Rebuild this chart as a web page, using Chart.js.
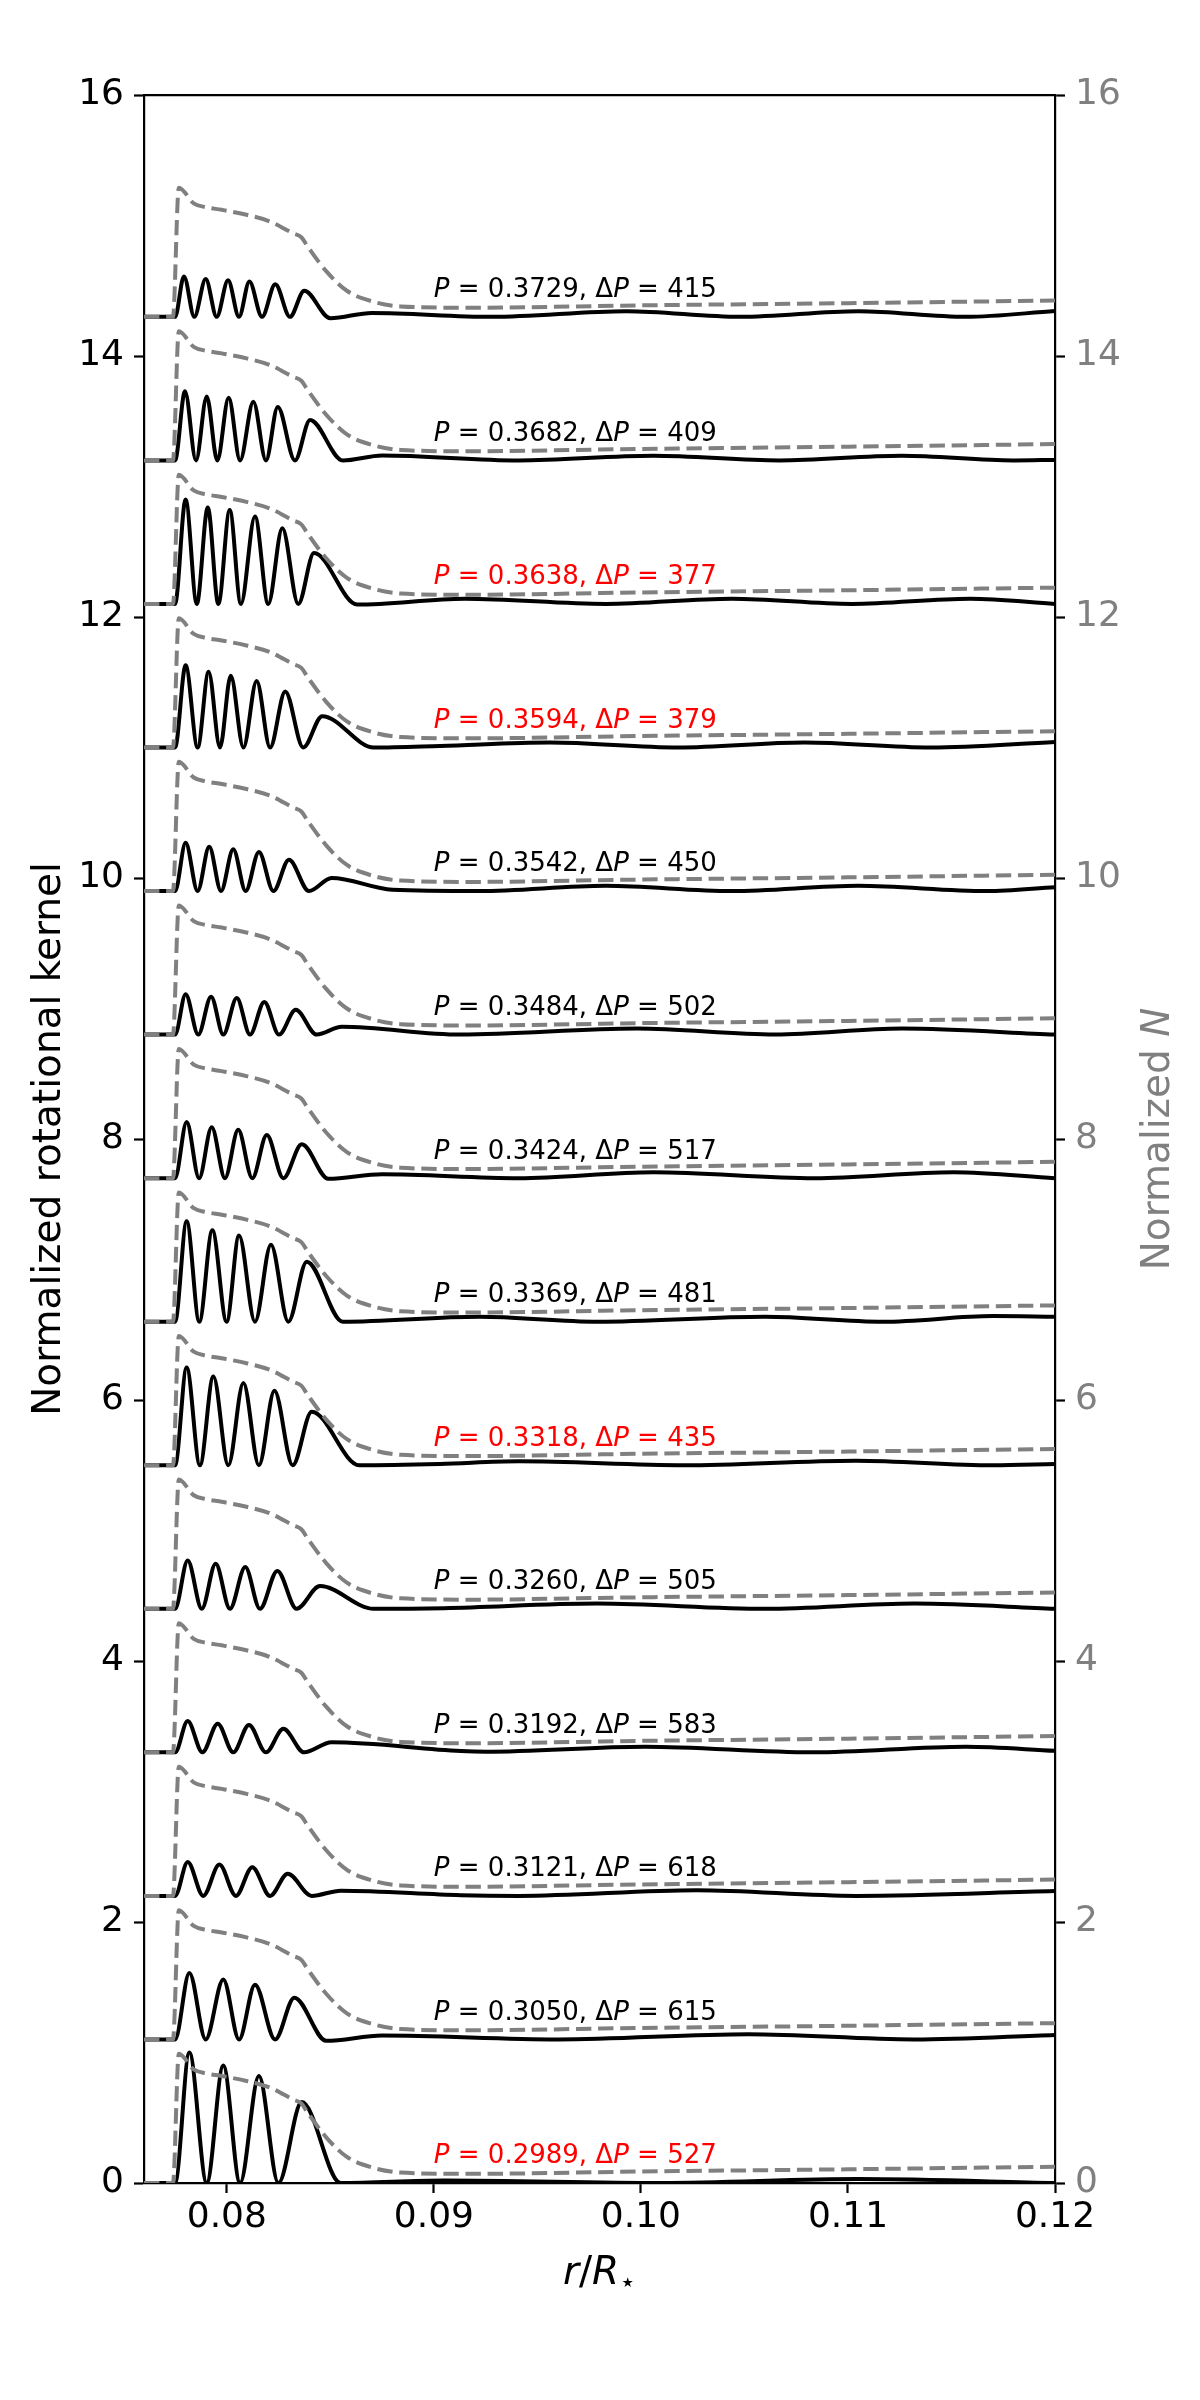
<!DOCTYPE html>
<html><head><meta charset="utf-8">
<script src="https://cdn.jsdelivr.net/npm/chart.js@4.4.1/dist/chart.umd.min.js"></script>
<style>html,body{margin:0;padding:0;background:#fff;}canvas{display:block;}</style>
</head><body>
<canvas id="c" width="1200" height="2400"></canvas>
<script>
// ---------------- data ----------------
const periods   = ['0.2989','0.3050','0.3121','0.3192','0.3260','0.3318','0.3369','0.3424','0.3484','0.3542','0.3594','0.3638','0.3682','0.3729'];
const deltaP    = ['527','615','618','583','505','435','481','517','502','450','379','377','409','415'];
const highlighted = [true,false,false,false,false,true,false,false,false,false,true,true,false,false];
const offsets   = [0,1.1,2.2,3.3,4.4,5.5,6.6,7.7,8.8,9.9,11.0,12.1,13.2,14.3];
const annotX = 0.09, annotDy = 0.15;

const xTicks = [0.08,0.09,0.10,0.11,0.12];
const xTickLabels = ['0.08','0.09','0.10','0.11','0.12'];
const yTicks = [0,2,4,6,8,10,12,14,16];
const yTickLabels = ['0','2','4','6','8','10','12','14','16'];

// normalized buoyancy frequency profile (relative to each mode's baseline)
const nProfileX = [0.076,0.0774,0.07768,0.0784,0.0790,0.07975,0.0810,0.0821,0.0832,0.0836,0.0839,0.0848,0.0858,0.0871,0.0884,0.0915,0.100,0.110,0.12];
const nProfileY = [0,0,0.99,0.87,0.84,0.82,0.78,0.73,0.64,0.61,0.54,0.35,0.20,0.115,0.08,0.07,0.088,0.105,0.125];

// rotational kernels: [r/R, value above baseline] at the extrema
const kernel_2989 = [[0.076,0],[0.0775,0],[0.07819,1.00],[0.07903,0],[0.07983,0.90],[0.08064,0],[0.08155,0.82],[0.08249,0],[0.08362,0.62],[0.0855,0],[0.0905,0.02],[0.1010,0.0],[0.1105,0.03],[0.12,0.0]];
const kernel_3050 = [[0.076,0],[0.0775,0],[0.07819,0.51],[0.07898,0],[0.07983,0.46],[0.08059,0],[0.08136,0.42],[0.08233,0],[0.08326,0.32],[0.0848,-0.01],[0.0875,0.03],[0.0960,0.0],[0.1052,0.04],[0.1132,0.0],[0.12,0.035]];
const kernel_3121 = [[0.076,0],[0.0775,0],[0.07811,0.26],[0.07886,0],[0.07964,0.24],[0.08044,0],[0.08123,0.22],[0.08209,0],[0.08294,0.17],[0.0841,0],[0.0855,0.04],[0.0913,0.005],[0.0941,0.0],[0.1027,0.043],[0.1104,0.0],[0.12,0.037]];
const kernel_3192 = [[0.076,0],[0.0775,0],[0.07811,0.24],[0.07882,0],[0.07956,0.22],[0.08031,0],[0.08107,0.21],[0.08189,0],[0.08273,0.18],[0.08373,0],[0.08506,0.077],[0.0913,0.01],[0.0925,0.005],[0.1002,0.043],[0.1083,0.0],[0.1157,0.043],[0.12,0.012]];
const kernel_3260 = [[0.076,0],[0.0775,0],[0.07811,0.37],[0.07879,0],[0.07946,0.345],[0.08015,0],[0.08089,0.32],[0.0816,0],[0.08244,0.29],[0.08337,0],[0.0845,0.174],[0.0871,0.0],[0.0905,0.005],[0.0979,0.04],[0.1060,0.0],[0.1132,0.04],[0.12,0.0]];
const kernel_3318 = [[0.076,0],[0.0775,0],[0.07806,0.75],[0.0787,0],[0.07935,0.68],[0.08007,0],[0.0808,0.63],[0.08155,0],[0.0823,0.57],[0.08318,0],[0.0841,0.41],[0.0864,0.0],[0.0903,0.01],[0.0941,0.03],[0.1021,0.0],[0.1104,0.035],[0.1170,0.0],[0.12,0.01]];
const kernel_3369 = [[0.076,0],[0.0775,0],[0.07806,0.77],[0.07867,0],[0.0793,0.70],[0.07999,0],[0.08059,0.66],[0.08136,0],[0.08213,0.59],[0.08297,0],[0.08386,0.46],[0.0856,0.0],[0.0922,0.038],[0.0979,0.0],[0.1060,0.038],[0.1117,0.0],[0.1170,0.043],[0.12,0.038]];
const kernel_3424 = [[0.076,0],[0.0775,0],[0.07806,0.43],[0.07866,0],[0.07927,0.39],[0.07991,0],[0.08055,0.37],[0.08123,0],[0.08193,0.33],[0.08273,0],[0.08362,0.26],[0.0849,-0.005],[0.0875,0.03],[0.0941,0.0],[0.1006,0.046],[0.1084,0.0],[0.1151,0.046],[0.12,0.0]];
const kernel_3484 = [[0.076,0],[0.0775,0],[0.07801,0.31],[0.07862,0],[0.07924,0.29],[0.07983,0],[0.08048,0.28],[0.08112,0],[0.08181,0.25],[0.08252,0],[0.08333,0.19],[0.08434,0],[0.08555,0.06],[0.0913,0.0],[0.0998,0.046],[0.1065,0.0],[0.1126,0.046],[0.12,0.0]];
const kernel_3542 = [[0.076,0],[0.0775,0],[0.07801,0.37],[0.07859,0],[0.07915,0.34],[0.07972,0],[0.08031,0.32],[0.08091,0],[0.08155,0.30],[0.08225,0],[0.083,0.24],[0.08397,0],[0.08506,0.10],[0.0880,0.01],[0.0922,0.0],[0.0983,0.04],[0.1044,0.0],[0.1105,0.04],[0.1167,0.0],[0.12,0.03]];
const kernel_3594 = [[0.076,0],[0.0775,0],[0.07801,0.63],[0.07859,0],[0.07912,0.58],[0.07967,0],[0.08019,0.55],[0.0808,0],[0.08144,0.51],[0.08209,0],[0.08282,0.43],[0.08369,0],[0.08461,0.24],[0.0871,0.0],[0.0903,0.012],[0.0956,0.038],[0.1018,0.0],[0.1079,0.038],[0.1140,0.0],[0.12,0.043]];
const kernel_3638 = [[0.076,0],[0.0775,0],[0.07801,0.80],[0.07855,0],[0.07908,0.74],[0.07959,0],[0.08014,0.72],[0.08068,0],[0.08136,0.67],[0.082,0],[0.08268,0.58],[0.08345,0],[0.08421,0.39],[0.0863,-0.005],[0.0915,0.04],[0.0983,0.0],[0.1044,0.04],[0.1102,0.0],[0.1159,0.04],[0.12,0.0]];
const kernel_3682 = [[0.076,0],[0.0775,0],[0.07798,0.53],[0.07851,0],[0.07903,0.49],[0.07954,0],[0.08009,0.48],[0.08064,0],[0.08128,0.45],[0.08189,0],[0.08246,0.41],[0.08329,0],[0.08402,0.31],[0.0856,0.0],[0.0875,0.038],[0.0941,0.0],[0.1006,0.035],[0.1067,0.0],[0.1126,0.035],[0.1180,0.0],[0.12,0.004]];
const kernel_3729 = [[0.076,0],[0.0775,0],[0.07793,0.31],[0.07843,0],[0.07898,0.29],[0.07951,0],[0.08006,0.28],[0.08059,0],[0.08109,0.27],[0.0817,0],[0.08234,0.25],[0.08305,0],[0.08374,0.20],[0.0850,-0.01],[0.0870,0.03],[0.0928,0.0],[0.0993,0.043],[0.1048,0.0],[0.1105,0.043],[0.1157,0.0],[0.12,0.045]];
const kernels = [kernel_2989,kernel_3050,kernel_3121,kernel_3192,kernel_3260,kernel_3318,kernel_3369,kernel_3424,kernel_3484,kernel_3542,kernel_3594,kernel_3638,kernel_3682,kernel_3729];

// ---------------- chart ----------------
Chart.defaults.font.family = "'DejaVu Sans', sans-serif";
const GREY = '#808080';

const datasets = [];
offsets.forEach((off, i) => {
  datasets.push({
    label: 'N ' + periods[i],
    data: nProfileX.map((x, j) => ({x: x, y: nProfileY[j] + off})),
    borderColor: GREY, borderWidth: 4, borderDash: [15.4, 6.7],
    cubicInterpolationMode: 'monotone', pointRadius: 0, fill: false, order: 0,
    xAxisID: 'x', yAxisID: 'y'
  });
  datasets.push({
    label: 'K ' + periods[i],
    data: kernels[i].map(p => ({x: p[0], y: p[1] + off})),
    borderColor: '#000', borderWidth: 4,
    cubicInterpolationMode: 'monotone', pointRadius: 0, fill: false, order: 1,
    xAxisID: 'x', yAxisID: 'y'
  });
});

function drawSegs(ctx, segs, x, y, size, color, align) {
  const fontOf = s => (s[1] ? 'oblique ' : '') + size + "px 'DejaVu Sans'";
  let total = 0;
  segs.forEach(s => { ctx.font = fontOf(s); total += ctx.measureText(s[0]).width; });
  let cx = align === 'center' ? x - total / 2 : x;
  ctx.fillStyle = color;
  ctx.textBaseline = 'alphabetic';
  ctx.textAlign = 'left';
  segs.forEach(s => { ctx.font = fontOf(s); ctx.fillText(s[0], cx, y); cx += ctx.measureText(s[0]).width; });
}

const textPlugin = {
  id: 'texts',
  afterDraw(chart) {
    const ctx = chart.ctx, xs = chart.scales.x, ys = chart.scales.y, ca = chart.chartArea;
    ctx.save();
    periods.forEach((p, i) => {
      const segs = [['P', true], [' = ' + p + ', \u0394', false], ['P', true], [' = ' + deltaP[i], false]];
      drawSegs(ctx, segs, xs.getPixelForValue(annotX), ys.getPixelForValue(offsets[i] + annotDy), 26,
               highlighted[i] ? '#ff0000' : '#000000', 'left');
    });
    // left axis title
    const midY = (ca.top + ca.bottom) / 2;
    ctx.save();
    ctx.translate(60, midY); ctx.rotate(-Math.PI / 2);
    drawSegs(ctx, [['Normalized rotational kernel', false]], 0, 0, 39, '#000', 'center');
    ctx.restore();
    // right axis title
    ctx.save();
    ctx.translate(1169, midY); ctx.rotate(-Math.PI / 2);
    drawSegs(ctx, [['Normalized ', false], ['N', true]], 0, 0, 39, GREY, 'center');
    ctx.restore();
    // x axis title r/R_star
    const cx = (ca.left + ca.right) / 2, by = 2284;
    ctx.font = "oblique 39px 'DejaVu Sans'"; const w1 = ctx.measureText('r').width;
    ctx.font = "39px 'DejaVu Sans'"; const w2 = ctx.measureText('/').width;
    ctx.font = "oblique 39px 'DejaVu Sans'"; const w3 = ctx.measureText('R').width;
    ctx.font = "27px 'DejaVu Sans'"; const w4 = ctx.measureText('\u22C6').width;
    let x0 = cx - (w1 + w2 + w3 + w4) / 2;
    ctx.fillStyle = '#000'; ctx.textBaseline = 'alphabetic'; ctx.textAlign = 'left';
    ctx.font = "oblique 39px 'DejaVu Sans'"; ctx.fillText('r', x0, by); x0 += w1;
    ctx.font = "39px 'DejaVu Sans'"; ctx.fillText('/', x0, by); x0 += w2;
    ctx.font = "oblique 39px 'DejaVu Sans'"; ctx.fillText('R', x0, by); x0 += w3;
    ctx.font = "27px 'DejaVu Sans'"; ctx.fillText('\u22C6', x0, by + 7);
    ctx.restore();
  }
};

const axisCommon = {
  grid: { drawOnChartArea: false, drawTicks: true, tickLength: 10, tickWidth: 2.2, tickColor: '#000' },
  border: { display: true, color: '#000', width: 2.2 }
};

new Chart(document.getElementById('c').getContext('2d'), {
  type: 'line',
  data: { datasets },
  options: {
    responsive: false, animation: false, devicePixelRatio: 1,
    layout: { padding: 0 },
    plugins: { legend: { display: false }, tooltip: { enabled: false } },
    elements: { point: { radius: 0 } },
    scales: {
      x: {
        type: 'linear', position: 'bottom', min: 0.076, max: 0.12,
        afterBuildTicks: s => { s.ticks = xTicks.map(v => ({ value: v })); },
        ticks: { callback: (v, i) => xTickLabels[i], font: { size: 36 }, color: '#000', padding: 3, maxRotation: 0, autoSkip: false },
        ...axisCommon,
        afterFit: s => { s.height = 217; }
      },
      xTop: {
        type: 'linear', position: 'top', min: 0.076, max: 0.12,
        ticks: { display: false },
        grid: { drawOnChartArea: false, drawTicks: false },
        border: { display: true, color: '#000', width: 2.2 },
        afterFit: s => { s.height = 95; }
      },
      y: {
        type: 'linear', position: 'left', min: 0, max: 16,
        afterBuildTicks: s => { s.ticks = yTicks.map(v => ({ value: v })); },
        ticks: { callback: (v, i) => yTickLabels[i], font: { size: 36 }, color: '#000', padding: 10, autoSkip: false },
        ...axisCommon,
        afterFit: s => { s.width = 144; }
      },
      y2: {
        type: 'linear', position: 'right', min: 0, max: 16,
        afterBuildTicks: s => { s.ticks = yTicks.map(v => ({ value: v })); },
        ticks: { callback: (v, i) => yTickLabels[i], font: { size: 36 }, color: GREY, padding: 10, autoSkip: false },
        ...axisCommon,
        afterFit: s => { s.width = 145; }
      }
    }
  },
  plugins: [textPlugin]
});
</script>
</body></html>
